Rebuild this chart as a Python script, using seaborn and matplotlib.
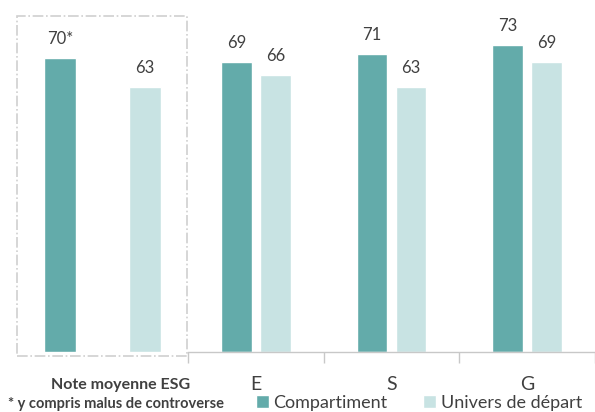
import pandas as pd
import seaborn as sns
import matplotlib.pyplot as plt
from matplotlib.patches import Rectangle

# donnees
series = ['Compartiment', 'Univers de départ']
note_esg = [70, 63]
piliers = ['E', 'S', 'G']
compartiment = [69, 71, 73]
univers = [66, 63, 69]

couleurs = {'Compartiment': '#63ABAA', 'Univers de départ': '#C8E3E3'}
gris_texte = '#404040'

sns.set_theme(style='white')
plt.rcParams['font.family'] = ['Lato', 'DejaVu Sans']

fig = plt.figure(figsize=(5.95, 4.12), dpi=100)
W, H = 595, 412
ymax = 337 / 4.2

# panneau gauche : note moyenne ESG
ax1 = fig.add_axes([17 / W, 60 / H, 170 / W, 337 / H])
df1 = pd.DataFrame({'serie': series, 'valeur': note_esg})
sns.barplot(data=df1, x='serie', y='valeur', hue='serie', palette=couleurs,
            width=0.37, saturation=1, legend=False, ax=ax1)
ax1.set_xlim(-0.506, 1.494)
ax1.set_ylim(0, ymax)
ax1.set_xticks([])
ax1.set_yticks([])
ax1.set_xlabel('')
ax1.set_ylabel('')
for s in ax1.spines.values():
    s.set_visible(False)
etiquettes1 = ['70*', '63']
for i, v in enumerate(note_esg):
    ax1.annotate(etiquettes1[i], (i, v), xytext=(0, 8), textcoords='offset points',
                 ha='center', va='bottom', fontsize=12, color=gris_texte)

# cadre pointille
cadre = Rectangle((17 / W, 1 - 356 / H), 170 / W, 340 / H, transform=fig.transFigure,
                  fill=False, edgecolor='#D0D0D0', linewidth=1.2, linestyle='-.')
fig.patches.append(cadre)

# panneau droit : E, S, G
ax2 = fig.add_axes([188 / W, 60 / H, 407 / W, 337 / H])
df2 = pd.DataFrame({
    'pilier': piliers * 2,
    'serie': [series[0]] * 3 + [series[1]] * 3,
    'valeur': compartiment + univers,
})
sns.barplot(data=df2, x='pilier', y='valeur', hue='serie', palette=couleurs,
            width=0.575, gap=0.22, saturation=1, ax=ax2)
ax2.set_xlim(-0.5, 2.43)
ax2.set_ylim(0, ymax)
ax2.set_yticks([])
ax2.set_xlabel('')
ax2.set_ylabel('')
for nom in ['top', 'right', 'left']:
    ax2.spines[nom].set_visible(False)
ax2.spines['bottom'].set_color('#C8C8C8')
ax2.spines['bottom'].set_linewidth(1)
ax2.set_xticks([0, 1, 2])
ax2.set_xticklabels(piliers, fontsize=14, color=gris_texte)
ax2.tick_params(axis='x', which='major', length=0, pad=17)
ax2.set_xticks([-0.5, 0.5, 1.5, 2.5], minor=True)
ax2.tick_params(axis='x', which='minor', length=8, color='#C8C8C8', width=1, bottom=True)

for j, serie in enumerate(series):
    vals = compartiment if j == 0 else univers
    off = -0.144 if j == 0 else 0.144
    for i, v in enumerate(vals):
        ax2.annotate(str(v), (i + off, v), xytext=(0, 8), textcoords='offset points',
                     ha='center', va='bottom', fontsize=12, color=gris_texte)

handles, labels = ax2.get_legend_handles_labels()
ax2.get_legend().remove()
fig.legend(handles, labels, loc='center', bbox_to_anchor=(419 / W, 1 - 403 / H), ncol=2,
           frameon=False, fontsize=13, handlelength=0.7, handleheight=0.7,
           handletextpad=0.25, columnspacing=2.0, labelcolor=gris_texte)

fig.text(121 / W, 1 - 385 / H, 'Note moyenne ESG', ha='center', va='center',
         fontsize=11.5, fontweight='bold', color=gris_texte)
fig.text(8 / W, 1 - 404 / H, '* y compris malus de controverse', ha='left', va='center',
         fontsize=10.5, fontweight='bold', color=gris_texte)

fig.savefig('out.png', dpi=100)
